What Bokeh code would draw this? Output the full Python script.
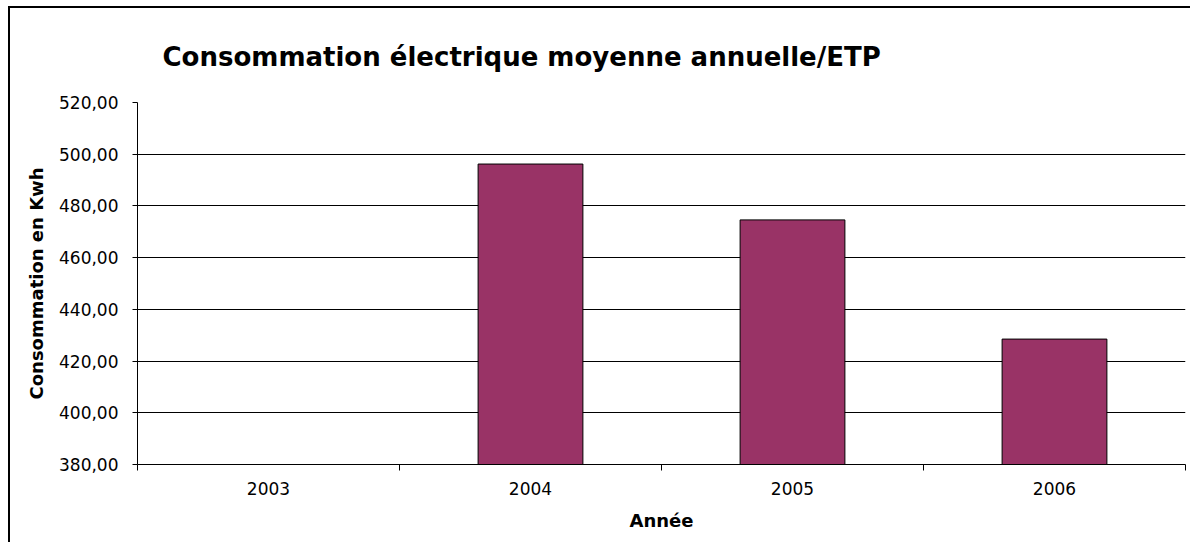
import math
from bokeh.plotting import figure
from bokeh.models import Range1d, FixedTicker, ColumnDataSource
from bokeh.embed import file_html
from bokeh.resources import INLINE

# ---- data ----
years = ["2003", "2004", "2005", "2006"]
consumption = [float("nan"), 496.2, 474.6, 428.5]
y_ticks = [380, 400, 420, 440, 460, 480, 500, 520]
y_min = 380
y_max = 520

title_text = "Consommation électrique moyenne annuelle/ETP"
x_label = "Année"
y_label = "Consommation en Kwh"

FONT = "DejaVu Sans"

positions = [i + 0.5 for i in range(len(years))]
src = ColumnDataSource(dict(x=positions, top=consumption))

p = figure(
    width=1182, height=536,
    x_range=Range1d(0, len(years)), y_range=Range1d(y_min, y_max),
    output_backend="svg", toolbar_location=None,
    min_border_left=127, min_border_right=7, min_border_top=93, min_border_bottom=80,
)
p.styles = {"border-left": "2px solid #000000", "border-top": "2px solid #000000",
            "margin-left": "8px", "margin-top": "6px"}
p.background_fill_color = "white"
p.border_fill_color = "white"
p.outline_line_color = None

p.vbar(x="x", top="top", bottom=y_min, width=0.4, source=src,
       fill_color="#993366", line_color="#000000", line_width=1)

xa = p.below[0]
ya = p.left[0]

# title
p.title.text = title_text
p.title.text_font = FONT
p.title.text_font_size = "26px"
p.title.text_font_style = "bold"
p.title.text_color = "#000000"
p.title.align = "left"
p.title.offset = 25
p.title.standoff = 62

# y axis
ya.ticker = FixedTicker(ticks=y_ticks, minor_ticks=[])
ya.major_label_overrides = {t: f"{t},00" for t in y_ticks}
ya.major_label_text_font = FONT
ya.major_label_text_font_size = "17px"
ya.major_label_text_color = "#000000"
ya.major_tick_out = 5
ya.major_tick_in = 0
ya.minor_tick_out = 0
ya.minor_tick_in = 0
ya.major_label_standoff = 14
ya.axis_line_color = "#000000"
ya.major_tick_line_color = "#000000"
ya.axis_label = y_label
ya.axis_label_text_font = FONT
ya.axis_label_text_font_size = "18px"
ya.axis_label_text_font_style = "bold"
ya.axis_label_text_color = "#000000"
ya.axis_label_standoff = 9

# x axis: labels at category centres, ticks at boundaries (minor ticks)
xa.ticker = FixedTicker(ticks=positions, minor_ticks=list(range(len(years) + 1)))
xa.major_label_overrides = {pos: yr for pos, yr in zip(positions, years)}
xa.major_label_text_font = FONT
xa.major_label_text_font_size = "17px"
xa.major_label_text_color = "#000000"
xa.major_tick_out = 0
xa.major_tick_in = 0
xa.minor_tick_out = 6
xa.minor_tick_in = 0
xa.minor_tick_line_color = "#000000"
xa.major_label_standoff = 11
xa.axis_line_color = "#000000"
xa.axis_label = x_label
xa.axis_label_text_font = FONT
xa.axis_label_text_font_size = "18px"
xa.axis_label_text_font_style = "bold"
xa.axis_label_text_color = "#000000"
xa.axis_label_standoff = 12

p.xgrid.grid_line_color = None
p.ygrid.grid_line_color = "#000000"
p.ygrid.grid_line_width = 1
p.ygrid.ticker = FixedTicker(ticks=y_ticks)

open("out.html", "w").write(file_html(p, INLINE))
